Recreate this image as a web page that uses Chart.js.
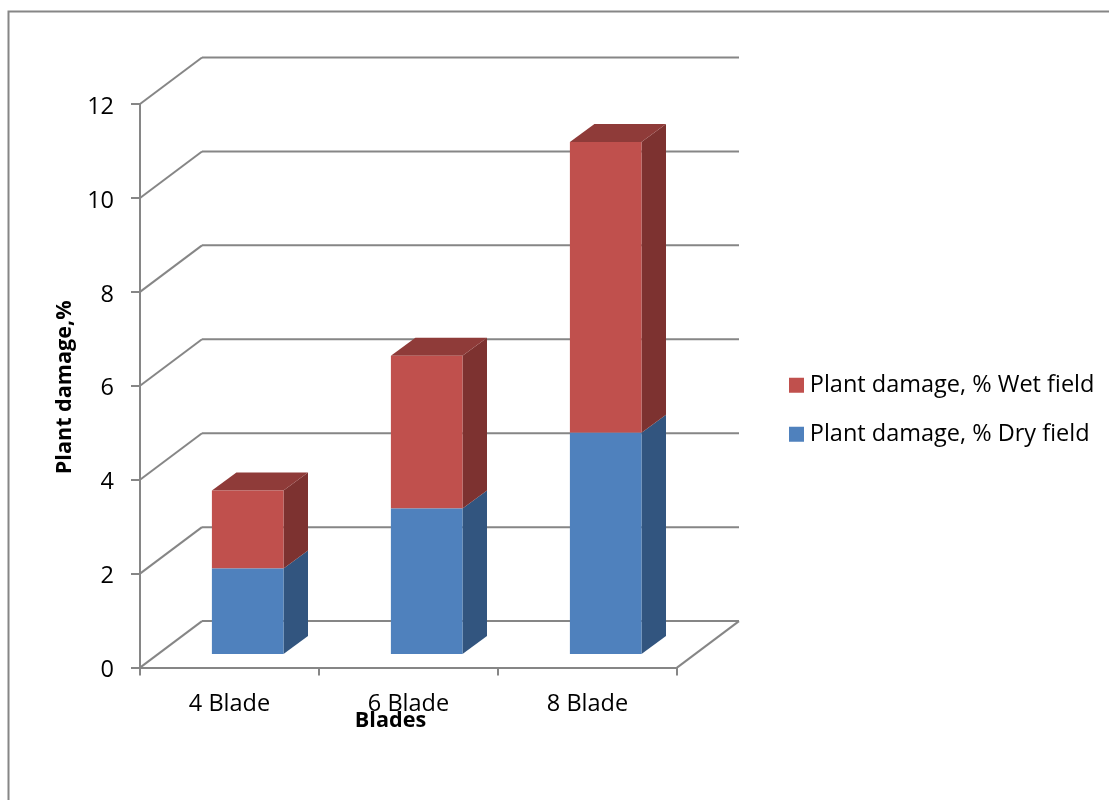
<!DOCTYPE html>
<html>
<head>
<meta charset="utf-8">
<title>Plant damage by blade count</title>
<style>
  html, body { margin: 0; padding: 0; background: #fff; }
  #wrap { width: 1109px; height: 800px; position: relative; overflow: hidden; }
</style>
<script src="https://cdn.jsdelivr.net/npm/chart.js@4"></script>
</head>
<body>
<div id="wrap"><canvas id="chart" width="1109" height="800"></canvas></div>
<script>
const categories = ['4 Blade', '6 Blade', '8 Blade'];
const dryField = [1.84, 3.12, 4.73];
const wetField = [1.66, 3.25, 6.19];
const dryLabel = 'Plant damage, % Dry field';
const wetLabel = 'Plant damage, % Wet field';
const yAxisTitle = 'Plant damage,%';
const xAxisTitle = 'Blades';
const yMax = 12;
const yStep = 2;

const FONT = '"Open Sans"';
const LABEL_SIZE = 23.5;
const TITLE_SIZE = 21.6;
const AXIS = '#868686';
const BLUE = { front: '#4F81BD', side: '#32557F', top: '#3B6596' };
const RED = { front: '#C0504D', side: '#7D3230', top: '#8F3B39' };

// Projection of the 3D box: wall depth and the bars' own depth, in canvas pixels.
const WALL = { dx: 62, dy: -46.5 };
const BAR_DEPTH = { dx: 24.5, dy: -18 };
const BAR_SHIFT = { dx: 18.2, dy: -12.6 };
const PLOT_RIGHT = 677;

function line(ctx, x1, y1, x2, y2) {
  ctx.beginPath();
  ctx.moveTo(x1, y1);
  ctx.lineTo(x2, y2);
  ctx.stroke();
}

function poly(ctx, pts, fill) {
  ctx.fillStyle = fill;
  ctx.beginPath();
  pts.forEach((p, i) => (i ? ctx.lineTo(p[0], p[1]) : ctx.moveTo(p[0], p[1])));
  ctx.closePath();
  ctx.fill();
}

// Nudges an axis title away from the scale's midpoint.
function offsetTitle(scale, dx, dy) {
  const base = Object.getPrototypeOf(scale).drawTitle;
  scale.drawTitle = function () {
    this.ctx.save();
    this.ctx.translate(dx, dy);
    base.call(this);
    this.ctx.restore();
  };
}

// Chart frame, floor and back wall of the 3D box.
const boxPlugin = {
  id: 'box',
  beforeDraw(chart) {
    const { ctx, scales: { y }, chartArea: a } = chart;
    ctx.save();
    ctx.strokeStyle = AXIS;
    ctx.lineWidth = 2;
    ctx.strokeRect(8.5, 11.5, 1200, 900);
    y.ticks.forEach(t => {
      const py = y.getPixelForValue(t.value);
      line(ctx, a.left, py, a.left + WALL.dx, py + WALL.dy);
      line(ctx, a.left + WALL.dx, py + WALL.dy, a.right + WALL.dx, py + WALL.dy);
    });
    line(ctx, a.right, a.bottom, a.right + WALL.dx, a.bottom + WALL.dy);
    ctx.restore();
  }
};

// Moves the bars back onto the floor and adds their side and top faces.
const depthPlugin = {
  id: 'depth',
  beforeDatasetsDraw(chart) {
    const { ctx } = chart;
    ctx.save();
    ctx.translate(BAR_SHIFT.dx, BAR_SHIFT.dy);
    const { dx, dy } = BAR_DEPTH;
    const palettes = [BLUE, RED];
    chart.data.datasets.forEach((ds, di) => {
      const pal = palettes[di];
      chart.getDatasetMeta(di).data.forEach(bar => {
        const right = bar.x + bar.width / 2;
        const left = bar.x - bar.width / 2;
        poly(ctx, [[right, bar.base], [right + dx, bar.base + dy], [right + dx, bar.y + dy], [right, bar.y]], pal.side);
        if (di === chart.data.datasets.length - 1) {
          poly(ctx, [[left, bar.y], [left + dx, bar.y + dy], [right + dx, bar.y + dy], [right, bar.y]], pal.top);
        }
      });
    });
  },
  afterDatasetsDraw(chart) {
    chart.ctx.restore();
  }
};

// Reserves the space right of the box for the legend and places the block in it.
const legendPlacePlugin = {
  id: 'legendPlace',
  beforeLayout(chart) {
    const l = chart.legend;
    if (!l._fitWrapped) {
      const fit = l.fit;
      l.fit = function () {
        fit.call(this);
        this.width = chart.width - PLOT_RIGHT;
      };
      l._fitWrapped = true;
    }
  },
  afterLayout(chart) {
    const l = chart.legend;
    l.left = 795 - l.options.labels.padding;
    l.top = 373.5 - l.options.labels.padding;
    l.bottom = 800;
    l.right = 1109;
  }
};

new Chart(document.getElementById('chart'), {
  type: 'bar',
  data: {
    labels: categories,
    datasets: [
      { label: dryLabel, data: dryField, backgroundColor: BLUE.front, borderWidth: 0 },
      { label: wetLabel, data: wetField, backgroundColor: RED.front, borderWidth: 0 }
    ]
  },
  plugins: [boxPlugin, depthPlugin, legendPlacePlugin],
  options: {
    responsive: false,
    animation: false,
    layout: { padding: { top: 104, left: 0, right: 0, bottom: 0 } },
    datasets: { bar: { barPercentage: 0.4, categoryPercentage: 1 } },
    plugins: {
      tooltip: { enabled: false },
      legend: {
        position: 'right',
        align: 'start',
        reverse: true,
        labels: {
          usePointStyle: true,
          pointStyle: 'rect',
          boxWidth: 3,
          boxHeight: 15,
          padding: 25.5,
          color: '#000',
          font: { family: FONT, size: LABEL_SIZE }
        }
      }
    },
    scales: {
      x: {
        stacked: true,
        afterFit(s) { s.height = 132.4; },
        afterUpdate(s) { offsetTitle(s, -18, 0); },
        border: { color: AXIS, width: 2 },
        grid: { color: AXIS, lineWidth: 2, drawOnChartArea: false, tickLength: 8 },
        ticks: { color: '#000', padding: 14.5, maxRotation: 0, font: { family: FONT, size: LABEL_SIZE } },
        title: { display: true, text: xAxisTitle, color: '#000', padding: { top: 0, bottom: 66.5 }, font: { family: FONT, size: TITLE_SIZE, weight: 'bold' } }
      },
      y: {
        stacked: true,
        min: 0,
        max: yMax,
        afterFit(s) { s.width = 140; },
        afterUpdate(s) { offsetTitle(s, 0, 1.5); },
        border: { color: AXIS, width: 2 },
        grid: { color: AXIS, lineWidth: 2, drawOnChartArea: false, tickLength: 9 },
        ticks: { color: '#000', stepSize: yStep, padding: 17, labelOffset: 3, font: { family: FONT, size: LABEL_SIZE } },
        title: { display: true, text: yAxisTitle, color: '#000', padding: { top: 52, bottom: 0 }, font: { family: FONT, size: TITLE_SIZE, weight: 'bold' } }
      }
    }
  }
});
</script>
</body>
</html>
